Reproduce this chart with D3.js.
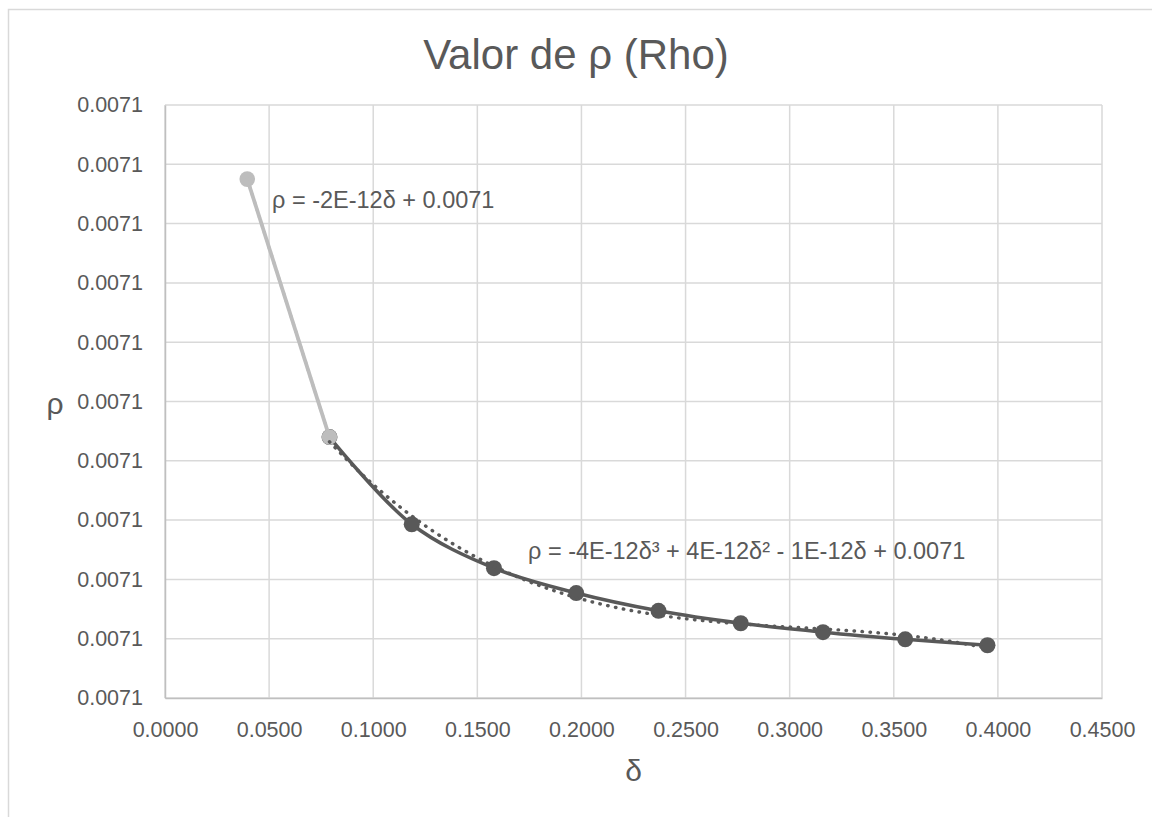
<!DOCTYPE html>
<html>
<head>
<meta charset="utf-8">
<script src="https://cdn.jsdelivr.net/npm/d3@7"></script>
<style>
  html, body { margin: 0; padding: 0; background: #ffffff; }
  svg { display: block; }
  text { font-family: "Liberation Sans", Arial, sans-serif; fill: #595959; }
</style>
</head>
<body>
<svg id="chart" width="1152" height="817"></svg>
<script>
// δ values for the two series
const deltaStart = [0.0395, 0.0790];
const rhoStart = [0.007100000000075, 0.007099999999988];

const deltaMain = [0.0790, 0.1185, 0.1580, 0.1975, 0.2370, 0.2765, 0.3160, 0.3555, 0.3950];
const rhoMain = [
  0.007099999999988, 0.0070999999999586, 0.0070999999999438,
  0.0070999999999354, 0.0070999999999294, 0.0070999999999252,
  0.0070999999999222, 0.0070999999999198, 0.0070999999999178
];

// axis ticks
const xTicks = [0, 0.05, 0.10, 0.15, 0.20, 0.25, 0.30, 0.35, 0.40, 0.45];
const yTicks = [
  0.00709999999990, 0.00709999999992, 0.00709999999994, 0.00709999999996,
  0.00709999999998, 0.00710000000000, 0.00710000000002, 0.00710000000004,
  0.00710000000006, 0.00710000000008, 0.00710000000010
];

const titleText = "Valor de ρ (Rho)";
const xTitle = "δ";
const yTitle = "ρ";
const eqStart = "ρ = -2E-12δ + 0.0071";
const eqMain = "ρ = -4E-12δ³ + 4E-12δ² - 1E-12δ + 0.0071";

const W = 1152, H = 817;
const plot = { left: 165, right: 1102, top: 105, bottom: 698 };

const svg = d3.select("#chart");

// outer chart frame
svg.append("rect")
  .attr("x", 8.5).attr("y", 9.5)
  .attr("width", W + 10).attr("height", H + 10)
  .attr("fill", "#ffffff")
  .attr("stroke", "#d9d9d9").attr("stroke-width", 1.5);

const x = d3.scaleLinear().domain([0, 0.45]).range([plot.left, plot.right]);
const y = d3.scaleLinear().domain([yTicks[0], yTicks[yTicks.length - 1]]).range([plot.bottom, plot.top]);
const fmt = d3.format(".4f");

// gridlines
const grid = svg.append("g");
grid.selectAll("line.h").data(yTicks).join("line")
  .attr("x1", plot.left).attr("x2", plot.right)
  .attr("y1", d => y(d)).attr("y2", d => y(d))
  .attr("stroke", "#d9d9d9").attr("stroke-width", 1.5);
grid.selectAll("line.v").data(xTicks).join("line")
  .attr("y1", plot.top).attr("y2", plot.bottom)
  .attr("x1", d => x(d)).attr("x2", d => x(d))
  .attr("stroke", "#d9d9d9").attr("stroke-width", 1.5);

// axes
const xAxis = svg.append("g")
  .attr("transform", `translate(0,${plot.bottom})`)
  .call(d3.axisBottom(x).tickValues(xTicks).tickFormat(fmt).tickSize(0).tickPadding(24));
const yAxis = svg.append("g")
  .attr("transform", `translate(${plot.left},0)`)
  .call(d3.axisLeft(y).tickValues(yTicks).tickFormat(fmt).tickSize(0).tickPadding(22));
[xAxis, yAxis].forEach(g => {
  g.select(".domain").attr("stroke", "#bfbfbf").attr("stroke-width", 1.5);
  g.selectAll("text")
    .style("font-family", '"Liberation Sans", Arial, sans-serif')
    .style("font-size", "21.5px").attr("fill", "#595959");
});

// cubic least-squares trend on the main series
function polyFit(xs, ys, deg) {
  const n = deg + 1;
  const A = Array.from({ length: n }, () => new Array(n + 1).fill(0));
  xs.forEach((xv, k) => {
    for (let i = 0; i < n; i++) {
      for (let j = 0; j < n; j++) A[i][j] += Math.pow(xv, i + j);
      A[i][n] += Math.pow(xv, i) * ys[k];
    }
  });
  for (let c = 0; c < n; c++) {
    let p = c;
    for (let r = c + 1; r < n; r++) if (Math.abs(A[r][c]) > Math.abs(A[p][c])) p = r;
    [A[c], A[p]] = [A[p], A[c]];
    for (let r = 0; r < n; r++) {
      if (r === c) continue;
      const f = A[r][c] / A[c][c];
      for (let j = c; j <= n; j++) A[r][j] -= f * A[c][j];
    }
  }
  return A.map((row, i) => row[n] / row[i]);
}
const base = 0.0071, scaleK = 1e14;
function trendPoints(xs, ys, deg) {
  const coef = polyFit(xs, ys.map(v => (v - base) * scaleK), deg);
  const x0 = d3.min(xs), x1 = d3.max(xs);
  return d3.range(0, 101).map(i => {
    const xv = x0 + (x1 - x0) * i / 100;
    const yv = coef.reduce((s, c, p) => s + c * Math.pow(xv, p), 0);
    return [xv, base + yv / scaleK];
  });
}

const darkCol = "#595959", lightCol = "#bdbdbd";
const mainData = deltaMain.map((d, i) => [d, rhoMain[i]]);
const startData = deltaStart.map((d, i) => [d, rhoStart[i]]);

const smooth = d3.line().x(d => x(d[0])).y(d => y(d[1])).curve(d3.curveCatmullRom.alpha(0.5));
const straight = d3.line().x(d => x(d[0])).y(d => y(d[1]));

// main series: smoothed line with markers
svg.append("path").datum(mainData)
  .attr("d", smooth).attr("fill", "none")
  .attr("stroke", darkCol).attr("stroke-width", 3.5).attr("stroke-linejoin", "round");
svg.selectAll("circle.main").data(mainData).join("circle")
  .attr("cx", d => x(d[0])).attr("cy", d => y(d[1])).attr("r", 8)
  .attr("fill", darkCol);

// first segment series
svg.append("path").datum(startData)
  .attr("d", straight).attr("fill", "none")
  .attr("stroke", lightCol).attr("stroke-width", 3.8);
svg.selectAll("circle.start").data(startData).join("circle")
  .attr("cx", d => x(d[0])).attr("cy", d => y(d[1])).attr("r", 7.8)
  .attr("fill", lightCol);

// trendlines (dotted)
svg.append("path").datum(trendPoints(deltaStart, rhoStart, 1))
  .attr("d", straight).attr("fill", "none")
  .attr("stroke", lightCol).attr("stroke-width", 3.2)
  .attr("stroke-linecap", "round").attr("stroke-dasharray", "0.5 7.5");
svg.append("path").datum(trendPoints(deltaMain, rhoMain, 3))
  .attr("d", straight).attr("fill", "none")
  .attr("stroke", darkCol).attr("stroke-width", 3.4)
  .attr("stroke-linecap", "round").attr("stroke-dasharray", "0.5 7.5");

// trend equations
svg.append("text").attr("x", 272).attr("y", 208)
  .style("font-size", "23.5px").text(eqStart);
svg.append("text").attr("x", 528).attr("y", 559)
  .style("font-size", "23.5px").text(eqMain);

// titles
svg.append("text").attr("x", 576).attr("y", 69).attr("text-anchor", "middle")
  .style("font-size", "42px").text(titleText);
svg.append("text").attr("x", (plot.left + plot.right) / 2).attr("y", 781).attr("text-anchor", "middle")
  .style("font-size", "30px").text(xTitle);
svg.append("text").attr("x", 55).attr("y", 414).attr("text-anchor", "middle")
  .style("font-size", "30px").text(yTitle);
</script>
</body>
</html>
